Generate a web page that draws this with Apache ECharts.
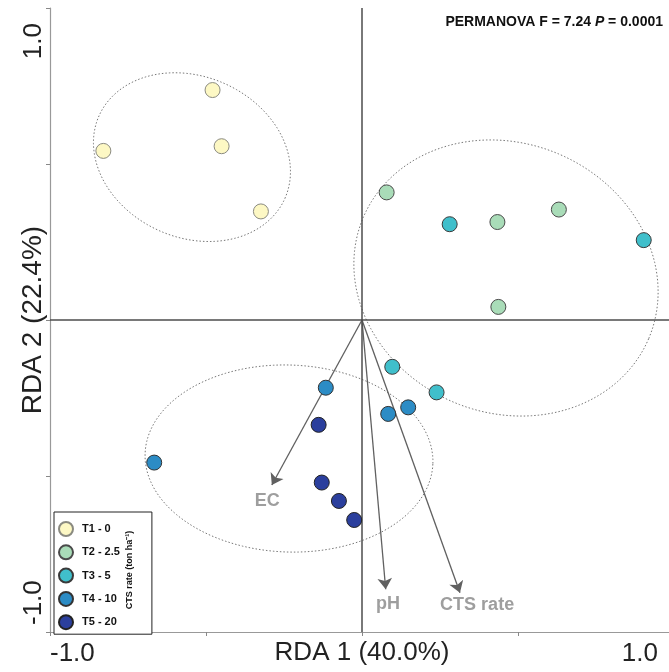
<!DOCTYPE html>
<html>
<head>
<meta charset="utf-8">
<title>RDA</title>
<script src="https://cdn.jsdelivr.net/npm/echarts@6/dist/echarts.min.js"></script>
<style>
html,body{margin:0;padding:0;background:#fff;}
#main{width:669px;height:672px;}
</style>
</head>
<body>
<div id="main"></div>
<script>
//处理组名称和颜色
var groupNames = ['T1 - 0', 'T2 - 2.5', 'T3 - 5', 'T4 - 10', 'T5 - 20'];
var groupColors = ['#fdf8c4', '#a9dcb8', '#40bfcb', '#2c8cc5', '#2b3f9d'];
var groupBorders = ['#8a8a80', '#4a4a4a', '#3a3a3a', '#333333', '#222222'];

//样点坐标 [RDA1, RDA2]
var t1Points = [[-0.479, 0.737], [-0.829, 0.542], [-0.450, 0.557], [-0.324, 0.348]];
var t2Points = [[0.079, 0.409], [0.434, 0.314], [0.631, 0.354], [0.437, 0.042]];
var t3Points = [[0.281, 0.307], [0.903, 0.256], [0.097, -0.150], [0.239, -0.232]];
var t4Points = [[-0.116, -0.217], [0.084, -0.301], [0.148, -0.280], [-0.666, -0.457]];
var t5Points = [[-0.139, -0.336], [-0.129, -0.521], [-0.074, -0.580], [-0.025, -0.641]];
var groupPoints = [t1Points, t2Points, t3Points, t4Points, t5Points];

//环境因子箭头
var envNames = ['EC', 'pH', 'CTS rate'];
var envArrows = [[-0.289, -0.529], [0.076, -0.863], [0.314, -0.874]];
var envLabelPos = [[-0.304, -0.580], [0.083, -0.910], [0.369, -0.914]];

//置信椭圆: 中心x, 中心y, 半轴a, 半轴b, 旋转角(度)
var ellipses = [
	[-0.545, 0.522, 0.326, 0.258, -24],
	[0.4615, 0.1346, 0.497, 0.432, -23],
	[-0.234, -0.444, 0.4615, 0.2997, -2]
];

//轴两端的刻度标签
var endTicks = [-1.0, 1.0];

var FONT = 'Liberation Sans, Arial, sans-serif';

var myChart = echarts.init(document.getElementById('main'));

function endLabel(v){
	return endTicks.indexOf(v) >= 0 ? v.toFixed(1) : '';
}

var series = [];

//椭圆
series.push({
	type: 'custom',
	coordinateSystem: 'cartesian2d',
	silent: true,
	z: 1,
	data: ellipses,
	renderItem: function(params, api){
		var cx = api.value(0), cy = api.value(1);
		var a = api.value(2), b = api.value(3);
		var ang = api.value(4) * Math.PI / 180;
		var pts = [];
		for(var k = 0; k <= 144; k++){
			var t = k / 144 * Math.PI * 2;
			var ex = a * Math.cos(t), ey = b * Math.sin(t);
			pts.push(api.coord([
				cx + ex * Math.cos(ang) - ey * Math.sin(ang),
				cy + ex * Math.sin(ang) + ey * Math.cos(ang)
			]));
		}
		return {
			type: 'polyline',
			shape: {points: pts},
			style: {fill: 'none', stroke: '#777', lineWidth: 1, lineDash: [1.5, 2]}
		};
	}
});

//箭头
series.push({
	type: 'lines',
	coordinateSystem: 'cartesian2d',
	silent: true,
	z: 3,
	symbol: ['none', 'arrow'],
	symbolSize: [8, 11],
	lineStyle: {color: '#606060', width: 1.3, opacity: 1},
	data: envArrows.map(function(p){
		return {coords: [[0, 0], p]};
	})
});

//箭头文字
series.push({
	type: 'scatter',
	silent: true,
	z: 3,
	symbolSize: 0,
	label: {
		show: true,
		position: 'inside',
		formatter: '{b}',
		fontFamily: FONT,
		fontSize: 18,
		fontWeight: 'bold',
		color: '#868686'
	},
	data: envLabelPos.map(function(p, i){
		return {name: envNames[i], value: p};
	})
});

//样点
for(var g = 0; g < groupNames.length; g++){
	var s = {
		name: groupNames[g],
		type: 'scatter',
		z: 5,
		symbol: 'circle',
		symbolSize: 15,
		itemStyle: {color: groupColors[g], borderColor: groupBorders[g], borderWidth: 1, opacity: 1},
		data: groupPoints[g]
	};
	if(g == 0){
		//原点十字线
		s.markLine = {
			silent: true,
			symbol: 'none',
			label: {show: false},
			lineStyle: {color: '#4d4d4d', width: 1.5, type: 'solid'},
			data: [{xAxis: 0}, {yAxis: 0}]
		};
	}
	series.push(s);
}

var option = {
	animation: false,
	backgroundColor: '#fff',
	textStyle: {fontFamily: FONT},
	title: {
		text: '{b|PERMANOVA F = 7.24 }{i|P}{b| = 0.0001}',
		right: 6,
		top: 15,
		padding: 0,
		textStyle: {
			rich: {
				b: {fontFamily: FONT, fontSize: 14, fontWeight: 'bold', color: '#111'},
				i: {fontFamily: FONT, fontSize: 14, fontWeight: 'bold', fontStyle: 'italic', color: '#111'}
			}
		}
	},
	legend: {
		orient: 'vertical',
		left: 54,
		top: 512,
		data: groupNames,
		icon: 'circle',
		itemWidth: 14,
		itemHeight: 14,
		itemGap: 7.3,
		padding: [9, 32, 4, 4],
		borderColor: '#222',
		borderWidth: 1,
		backgroundColor: '#fff',
		textStyle: {fontFamily: FONT, fontSize: 11, fontWeight: 'bold', color: '#111', padding: [0, 0, 0, 4]}
	},
	graphic: [{
		type: 'text',
		x: 130,
		y: 570,
		rotation: Math.PI / 2,
		z: 100,
		style: {
			text: 'CTS rate (ton ha\u207B\u00B9)',
			fontFamily: FONT,
			fontSize: 9,
			fontWeight: 'bold',
			fill: '#111',
			align: 'center',
			verticalAlign: 'middle'
		}
	}],
	grid: {left: 50, right: -5, top: 8, bottom: 40, outerBoundsMode: 'none', containLabel: false},
	xAxis: {
		type: 'value',
		min: -1,
		max: 1,
		interval: 0.5,
		name: 'RDA 1 (40.0%)',
		nameLocation: 'middle',
		nameGap: 8,
		nameMoveOverlap: false,
		nameTextStyle: {fontFamily: FONT, fontSize: 26, color: '#222'},
		axisLine: {onZero: false, lineStyle: {color: '#999', width: 1.2}},
		axisTick: {show: true, length: 4, lineStyle: {color: '#888'}},
		splitLine: {show: false},
		axisLabel: {
			fontFamily: FONT,
			fontSize: 26,
			color: '#222',
			margin: 9,
			alignMinLabel: 'left',
			alignMaxLabel: 'right',
			padding: [0, 16, 0, 0],
			formatter: endLabel
		}
	},
	yAxis: {
		type: 'value',
		min: -1,
		max: 1,
		interval: 0.5,
		name: 'RDA 2 (22.4%)',
		nameLocation: 'middle',
		nameGap: 3,
		nameRotate: 90,
		nameMoveOverlap: false,
		nameTextStyle: {fontFamily: FONT, fontSize: 28, color: '#222'},
		axisLine: {onZero: false, lineStyle: {color: '#999', width: 1.2}},
		axisTick: {show: true, length: 4, lineStyle: {color: '#888'}},
		splitLine: {show: false},
		axisLabel: {
			fontFamily: FONT,
			fontSize: 26,
			color: '#222',
			rotate: 90,
			margin: 3,
			alignMinLabel: 'left',
			alignMaxLabel: 'right',
			padding: [0, 15, 0, 7],
			formatter: endLabel
		}
	},
	series: series
};

myChart.setOption(option);
</script>
</body>
</html>
